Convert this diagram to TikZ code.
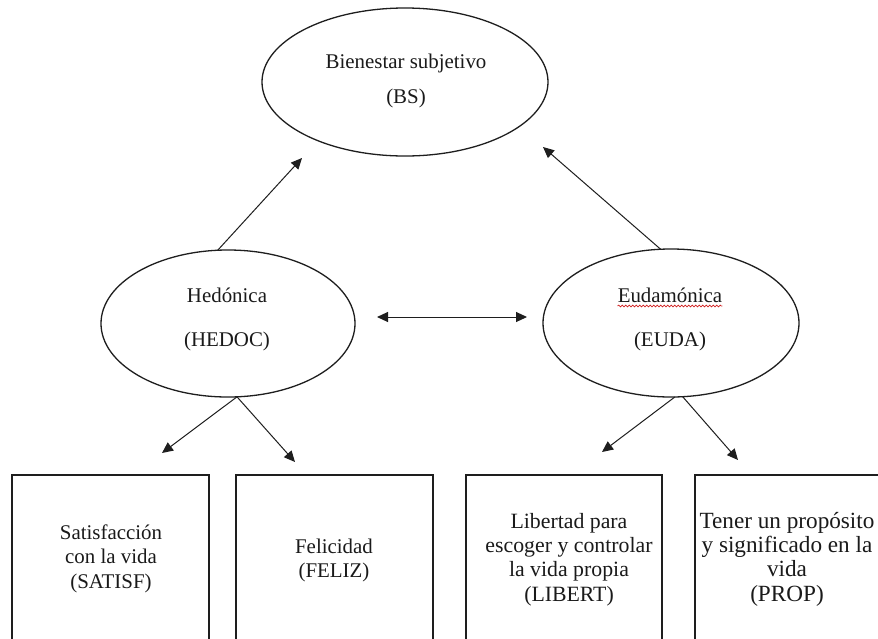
\documentclass[tikz,border=0pt]{standalone}
\usepackage{fontspec}
\setmainfont{Liberation Serif}
\usetikzlibrary{arrows.meta,shapes.geometric,decorations.pathmorphing}
\definecolor{linec}{HTML}{1E1E1E}
\definecolor{textc}{HTML}{1A1A1A}
\definecolor{spellred}{HTML}{D02020}
\newcommand\mylines[1]{\begin{tabular}[t]{@{}c@{}}#1\end{tabular}}
\begin{document}
\begin{tikzpicture}[x=1pt,y=-1pt,
  font=\fontsize{20.9}{24.6}\selectfont,
  ell/.style={ellipse, draw=linec, line width=1.3pt, inner sep=0pt, outer sep=0pt},
  boxst/.style={rectangle, draw=linec, line width=1.3pt, inner sep=0pt, outer sep=0pt, anchor=north west},
  txt/.style={anchor=base, inner sep=0pt, text=textc},
  arr/.style={draw=linec, line width=1pt, -{Triangle[length=11pt,width=10pt]}},
  darr/.style={draw=linec, line width=1pt, {Triangle[length=11pt,width=10pt]}-{Triangle[length=11pt,width=10pt]}}
]
\useasboundingbox (0,0) rectangle (878,638);
\fill[white] (0,0) rectangle (878,638);
\clip (0,0) rectangle (878,638);

% ellipses
\node[ell, minimum width=286pt, minimum height=148pt] (bs) at (405,82) {};
\node[ell, minimum width=254pt, minimum height=147pt] (hed) at (228,323.5) {};
\node[ell, minimum width=256pt, minimum height=148pt] (euda) at (671,323) {};

% ellipse texts
\node[txt] (bst) at (406,68) {\mylines{Bienestar subjetivo\\[10.4pt](BS)}};
\node[txt] (hedt) at (227,302) {\mylines{Hedónica\\[19.4pt](HEDOC)}};
\node[txt] (eudat) at (670,302) {\mylines{Eudamónica\\[19.4pt](EUDA)}};
\draw[spellred, line width=0.7pt, decorate, decoration={snake, amplitude=0.9pt, segment length=3.5pt}]
  ([yshift=-4pt]eudat.base west) -- ([yshift=-4pt]eudat.base east);

% boxes
\node[boxst, minimum width=197pt, minimum height=220pt] (b1) at (12,475) {};
\node[boxst, minimum width=197pt, minimum height=220pt] (b2) at (236,475) {};
\node[boxst, minimum width=196pt, minimum height=220pt] (b3) at (466,475) {};
\node[boxst, minimum width=197pt, minimum height=220pt] (b4) at (695,475) {};

\node[txt] (b1t) at (111,539) {\mylines{Satisfacción\\con la vida\\(SATISF)}};
\node[txt] (b2t) at (334,553) {\mylines{Felicidad\\(FELIZ)}};
\node[txt, font=\fontsize{21.8}{24.4}\selectfont] (b3t) at (569,528) {\mylines{Libertad para\\escoger y controlar\\la vida propia\\(LIBERT)}};
\node[txt, font=\fontsize{23.2}{24.4}\selectfont] (b4t) at (787,528) {\mylines{Tener un propósito\\y significado en la\\vida\\(PROP)}};

% arrow tips
\coordinate (t1) at (302,158);
\coordinate (t2) at (543,147);
\coordinate (dl) at (377,317);
\coordinate (dr) at (527,317);
\coordinate (t3) at (162,453);
\coordinate (t4) at (295,462);
\coordinate (t5) at (602,452);
\coordinate (t6) at (738,460);

\draw[arr] (hed.98) -- (t1);
\draw[arr] (euda.98.6) -- (t2);
\draw[darr] (dl) -- (dr);
\draw[arr] (hed.-83) -- (t3);
\draw[arr] (hed.-83) -- (t4);
\draw[arr] (euda.-87) -- (t5);
\draw[arr] (euda.-81) -- (t6);
\end{tikzpicture}
\end{document}
